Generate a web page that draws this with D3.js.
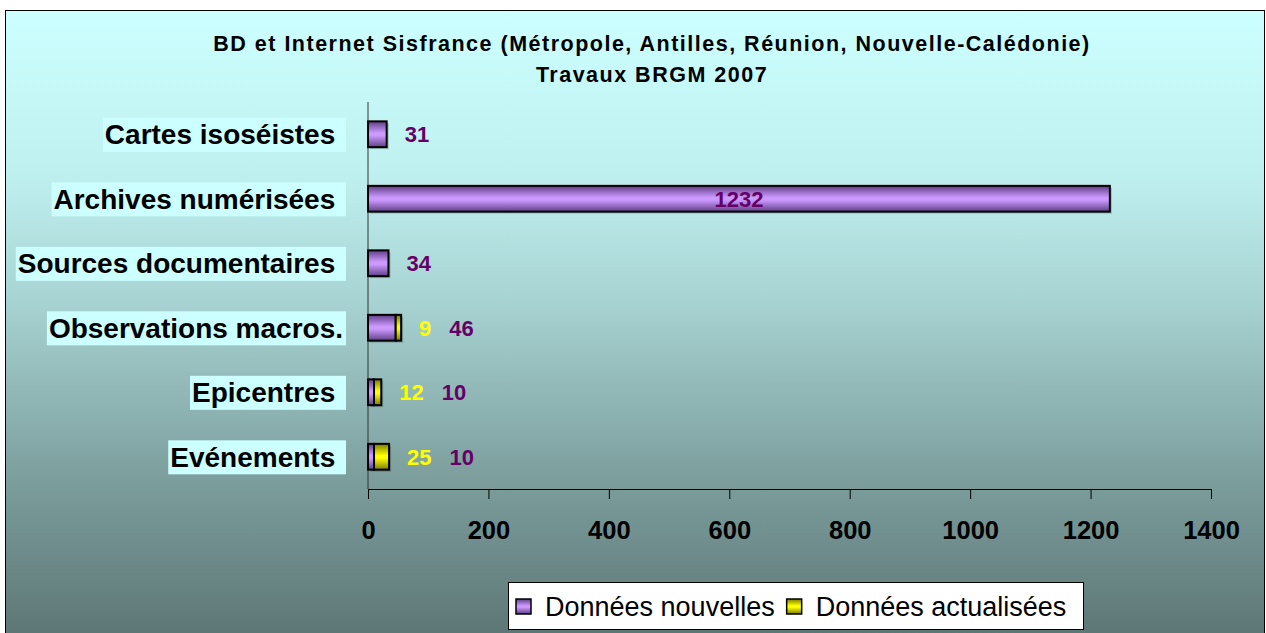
<!DOCTYPE html>
<html>
<head>
<meta charset="utf-8">
<script src="https://cdn.jsdelivr.net/npm/d3@7"></script>
<style>
  body { margin: 0; background: #ffffff; }
  svg { display: block; font-family: Arial, "Liberation Sans", sans-serif; }
  .cat text { white-space: pre; }
</style>
</head>
<body>
<div id="vis"></div>
<script>
// Declare constants
const FRAME_WIDTH = 1266;
const FRAME_HEIGHT = 633;
const MARGINS = {left: 368, right: 55, top: 102, bottom: 144};

// chart data (category names keep their trailing space, as in the source sheet)
const categories = ["Cartes isoséistes ", "Archives numérisées ", "Sources documentaires ",
                    "Observations macros.", "Epicentres ", "Evénements "];
const nouvelles = [31, 1232, 34, 46, 10, 10];
const actualisees = [0, 0, 0, 9, 12, 25];
const xTicks = [0, 200, 400, 600, 800, 1000, 1200, 1400];
const titleLines = ["BD et Internet Sisfrance (Métropole, Antilles, Réunion, Nouvelle-Calédonie)",
                    "Travaux BRGM 2007"];
const seriesNames = ["Données nouvelles", "Données actualisées"];

const PURPLE_TXT = "#660066";
const YELLOW_TXT = "#ffff00";

const svg = d3.select("#vis")
  .append("svg")
    .attr("width", FRAME_WIDTH)
    .attr("height", FRAME_HEIGHT);

const defs = svg.append("defs");

// background gradient
const bg = defs.append("linearGradient")
    .attr("id", "bg").attr("x1", 0).attr("y1", 0).attr("x2", 0).attr("y2", 1);
[[0, "#ccffff"], [0.25, "#c0f1f1"], [0.45, "#a9d5d4"], [0.75, "#7b9d9c"], [1, "#5c7574"]]
  .forEach(s => bg.append("stop").attr("offset", s[0]).attr("stop-color", s[1]));

// bar gradients (dark edges, light middle)
function barGrad(id, edge, mid) {
  const g = defs.append("linearGradient")
      .attr("id", id).attr("x1", 0).attr("y1", 0).attr("x2", 0).attr("y2", 1);
  [[0, edge], [0.45, mid], [0.55, mid], [1, edge]]
    .forEach(s => g.append("stop").attr("offset", s[0]).attr("stop-color", s[1]));
}
barGrad("gPurple", "#5e3f85", "#cc99ff");
barGrad("gYellow", "#7a7a00", "#ffff00");

svg.append("rect")
    .attr("x", 5.5).attr("y", 10.5)
    .attr("width", 1259).attr("height", 630)
    .attr("fill", "url(#bg)")
    .attr("stroke", "#000").attr("stroke-width", 1);

// title
svg.selectAll(".title")
  .data(titleLines)
  .join("text")
    .attr("class", "title")
    .attr("x", 652)
    .attr("y", (d, i) => 51 + i * 31)
    .attr("text-anchor", "middle")
    .attr("font-size", "21.5px")
    .attr("font-weight", "bold")
    .attr("letter-spacing", "1.5px")
    .text(d => d);

// scales
const x = d3.scaleLinear()
  .domain([0, 1400])
  .range([MARGINS.left, FRAME_WIDTH - MARGINS.right]);

const y = d3.scaleBand()
  .domain(categories)
  .range([MARGINS.top, FRAME_HEIGHT - MARGINS.bottom])
  .paddingInner(0.6)
  .paddingOuter(0.3);

const yBottom = FRAME_HEIGHT - MARGINS.bottom;

// x axis
const xAxis = svg.append("g")
    .attr("transform", `translate(0,${yBottom})`)
    .call(d3.axisBottom(x).tickValues(xTicks).tickFormat(d3.format("d"))
      .tickSize(10).tickSizeOuter(0).tickPadding(22));
xAxis.select(".domain").attr("stroke", "#000");
xAxis.selectAll(".tick line").attr("stroke", "#000");
xAxis.selectAll(".tick text")
    .attr("font-size", "25.5px")
    .attr("font-weight", "bold")
    .attr("font-family", "Arial, 'Liberation Sans', sans-serif")
    .attr("fill", "#000");

// y axis line
svg.append("line")
    .attr("x1", x(0)).attr("x2", x(0))
    .attr("y1", MARGINS.top).attr("y2", yBottom)
    .attr("stroke", "#333");

// category labels with light boxes
const labels = svg.selectAll(".cat")
  .data(categories)
  .join("g")
    .attr("class", "cat");

labels.append("text")
    .attr("x", x(0) - 25)
    .attr("y", d => y(d) + y.bandwidth() / 2)
    .attr("dy", "0.36em")
    .attr("text-anchor", "end")
    .attr("font-size", "28px")
    .attr("font-weight", "bold")
    .text(d => d);

labels.each(function() {
  const g = d3.select(this);
  const b = g.select("text").node().getBBox();
  g.insert("rect", "text")
      .attr("x", b.x - 2)
      .attr("y", b.y + b.height / 2 - 17)
      .attr("width", x(0) - 22 - (b.x - 2))
      .attr("height", 34)
      .attr("fill", "#ccffff");
});

// bars
const rows = categories.map((c, i) => ({cat: c, n: nouvelles[i], a: actualisees[i]}));

const bars = svg.selectAll(".row")
  .data(rows)
  .join("g")
    .attr("class", "row");

// soft shadow
bars.append("rect")
    .attr("x", x(0) + 2)
    .attr("y", d => y(d.cat) + 2)
    .attr("width", d => x(d.n + d.a) - x(0))
    .attr("height", y.bandwidth())
    .attr("fill", "#000")
    .attr("opacity", 0.2);

bars.append("rect")
    .attr("x", x(0))
    .attr("y", d => y(d.cat))
    .attr("width", d => x(d.n) - x(0))
    .attr("height", y.bandwidth())
    .attr("fill", "url(#gPurple)")
    .attr("stroke", "#000")
    .attr("stroke-width", 2);

bars.filter(d => d.a > 0)
  .append("rect")
    .attr("x", d => x(d.n))
    .attr("y", d => y(d.cat))
    .attr("width", d => x(d.n + d.a) - x(d.n))
    .attr("height", y.bandwidth())
    .attr("fill", "url(#gYellow)")
    .attr("stroke", "#000")
    .attr("stroke-width", 2);

// value labels
bars.each(function(d) {
  const g = d3.select(this);
  const cy = y(d.cat) + y.bandwidth() / 2;
  const endX = x(d.n + d.a);
  if (endX - x(0) > 100) {
    g.append("text")
        .attr("x", (x(0) + endX) / 2)
        .attr("y", cy).attr("dy", "0.36em")
        .attr("text-anchor", "middle")
        .attr("font-size", "22px").attr("font-weight", "bold")
        .attr("fill", PURPLE_TXT)
        .text(d.n);
    return;
  }
  let pos = endX + 18;
  if (d.a > 0) {
    pos = endX + 18;
    const t = g.append("text")
        .attr("x", pos)
        .attr("y", cy).attr("dy", "0.36em")
        .attr("font-size", "22px").attr("font-weight", "bold")
        .attr("fill", YELLOW_TXT)
        .text(d.a);
    pos = pos + t.node().getComputedTextLength() + 18;
  }
  g.append("text")
      .attr("x", pos)
      .attr("y", cy).attr("dy", "0.36em")
      .attr("font-size", "22px").attr("font-weight", "bold")
      .attr("fill", PURPLE_TXT)
      .text(d.n);
});

// legend
const legend = svg.append("g");
legend.append("rect")
    .attr("x", 508.5).attr("y", 582.5)
    .attr("width", 575).attr("height", 47)
    .attr("fill", "#fff")
    .attr("stroke", "#000");

const swatchFill = ["url(#gPurple)", "url(#gYellow)"];
let lx = 516;
seriesNames.forEach((name, i) => {
  legend.append("rect")
      .attr("x", lx)
      .attr("y", 599)
      .attr("width", 15).attr("height", 15)
      .attr("fill", swatchFill[i])
      .attr("stroke", "#000").attr("stroke-width", 1.5);
  const t = legend.append("text")
      .attr("x", lx + 29)
      .attr("y", 606).attr("dy", "0.36em")
      .attr("font-size", "27px")
      .text(name);
  lx = lx + 29 + t.node().getComputedTextLength() + 12;
});
</script>
</body>
</html>
